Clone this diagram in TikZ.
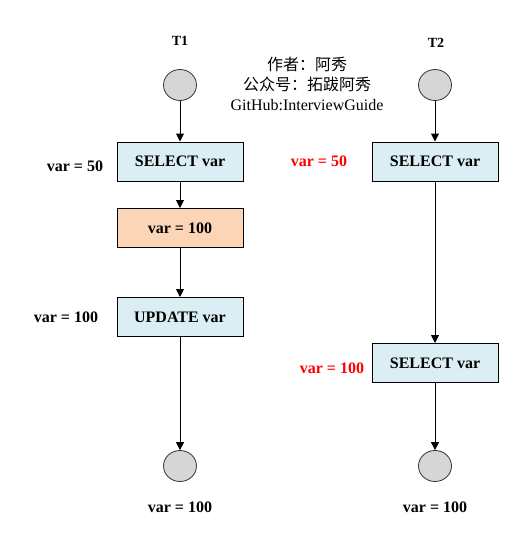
\documentclass[tikz,border=0pt]{standalone}
\usepackage{fontspec}
\setmainfont{Liberation Serif}
\newfontfamily\cjk{Noto Sans CJK SC}
\usetikzlibrary{arrows.meta,shapes.geometric}

\definecolor{stepblue}{HTML}{DAEEF3}
\definecolor{steporange}{HTML}{FBD5B5}
\definecolor{dotgray}{HTML}{D6D6D6}

\begin{document}
\begin{tikzpicture}[
                x=1pt,y=-1pt,
                line width=1pt,
                font=\fontsize{16}{20}\selectfont,
                stepbox/.style={draw,fill=stepblue,minimum width=126pt,minimum height=39pt,inner sep=0pt,font=\fontsize{16}{20}\selectfont\bfseries},
                dot/.style={draw=black!80,line width=.8pt,fill=dotgray,ellipse,minimum width=33pt,minimum height=31pt,inner sep=0pt},
                val/.style={font=\fontsize{16}{20}\selectfont\bfseries},
                flow/.style={-{Triangle[length=8pt,width=8pt]}}] %

\useasboundingbox (0,0) rectangle (518,543);

% T1
\node[font=\fontsize{14}{16}\selectfont\bfseries] (T1) at (180,41) {T1};

                    % 1
                    \node[dot] (S1) at (180,85) {};
                    \node[stepbox] (SEL1) at (180,161.5) {SELECT var};
                    \path [flow] (S1) edge (SEL1);
                    \node[val] (V1) at (75,166) {var = 50};

                    % 2
                    \node[stepbox,fill=steporange] (SET1) at (180,228) {var = 100};
                    \path [flow] (SEL1) edge (SET1);

                    % 3
                    \node[stepbox] (UPD1) at (180,317) {UPDATE var};
                    \path [flow] (SET1) edge (UPD1);
                    \node[val] (V2) at (66,317) {var = 100};

                    % 4
                    \node[dot] (E1) at (180,466) {};
                    \path [flow] (UPD1) edge (E1);
                    \node[val] (V3) at (180,507) {var = 100};

%%%%%%%%%%%%%%%%%%%%%%%%%%%%%%%%%%%%%%%%%%%%%%%%%%%%%%%%%%%%%%%%%%%%%%%%%%%%%%%%%%%%

% T2
\node[font=\fontsize{14}{16}\selectfont\bfseries] (T2) at (436,43) {T2};

                    % 1
                    \node[dot] (S2) at (435,85) {};
                    \node[stepbox] (SEL2) at (435,161.5) {SELECT var};
                    \path [flow] (S2) edge (SEL2);
                    \node[val,text=red] (V4) at (319,161) {var = 50};

                    % 2
                    \node[stepbox] (SEL3) at (435,363) {SELECT var};
                    \path [flow] (SEL2) edge (SEL3);
                    \node[val,text=red] (V5) at (332,368) {var = 100};

                    % 3
                    \node[dot] (E2) at (435,466) {};
                    \path [flow] (SEL3) edge (E2);
                    \node[val] (V6) at (435,507) {var = 100};

% author
\node[align=center,inner sep=0pt] (AUTH) at (307,84) {{\cjk 作者：阿秀}\\{\cjk 公众号：拓跋阿秀}\\GitHub:InterviewGuide};

\end{tikzpicture}
\end{document}
